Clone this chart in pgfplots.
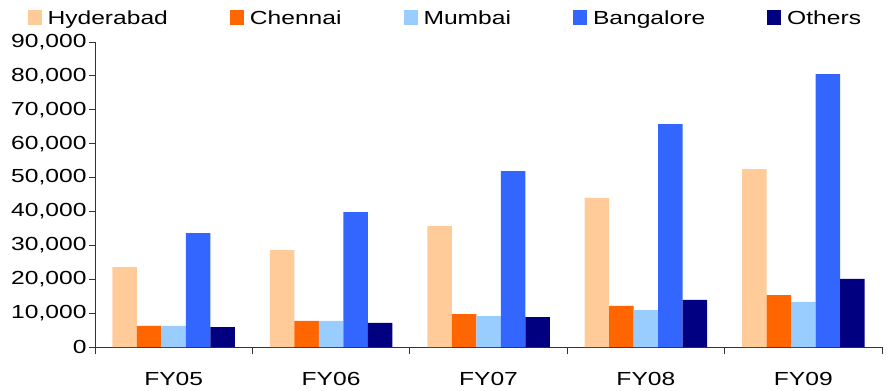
\documentclass[border=0pt]{standalone}
\usepackage{fontspec}
\setmainfont{Liberation Sans}[FakeStretch=1.3]
\usepackage{pgfplots}
\pgfplotsset{compat=1.18}
\definecolor{hyd}{HTML}{FFCC99}
\definecolor{che}{HTML}{FF6600}
\definecolor{mum}{HTML}{99CCFF}
\definecolor{ban}{HTML}{3366FF}
\definecolor{oth}{HTML}{000080}
\begin{document}
\begin{tikzpicture}
\begin{axis}[
  scale only axis, width=787bp, height=305bp,
  ybar=0pt, bar width=24.5bp,
  xmin=-0.5, xmax=4.5, ymin=0, ymax=90000,
  axis x line*=bottom, axis y line*=left,
  axis line style={black!80, line width=0.8pt},
  xtick={0,1,2,3,4}, xticklabels={FY05,FY06,FY07,FY08,FY09},
  major x tick style={draw=none},
  minor xtick={-0.5,0.5,1.5,2.5,3.5,4.5},
  minor x tick style={black!80, line width=0.8pt},
  minor tick length=7bp,
  tick align=outside,
  ytick={0,10000,20000,30000,40000,50000,60000,70000,80000,90000},
  major y tick style={black!80, line width=0.8pt},
  major tick length=6bp,
  scaled y ticks=false,
  /pgf/number format/.cd, fixed, 1000 sep={,}, assume math mode=true,
  /pgfplots/.cd,
  tick label style={font=\fontsize{19}{22}\selectfont},
  yticklabel style={xshift=1bp},
  xticklabel style={yshift=-16bp},
  legend style={font=\fontsize{19}{22}\selectfont, draw=none, fill=none,
    at={(axis description cs:-0.086,1.079)}, anchor=west,
    legend columns=5, inner xsep=0pt,
    /tikz/every even column/.append style={column sep=60bp}},
  legend image code/.code={\fill[#1] (0bp,-7.5bp) rectangle (14bp,7.5bp); \path (18bp,0);},
]
\addplot[fill=hyd, draw=none] coordinates {(0,23600) (1,28600) (2,35700) (3,44000) (4,52500)};
\addplot[fill=che, draw=none] coordinates {(0,6200) (1,7700) (2,9700) (3,12100) (4,15300)};
\addplot[fill=mum, draw=none] coordinates {(0,6200) (1,7700) (2,9100) (3,10900) (4,13300)};
\addplot[fill=ban, draw=none] coordinates {(0,33600) (1,39800) (2,51900) (3,65800) (4,80500)};
\addplot[fill=oth, draw=none] coordinates {(0,5900) (1,7100) (2,8850) (3,13900) (4,20100)};
\legend{Hyderabad,Chennai,Mumbai,Bangalore,Others}
\end{axis}
\pgfresetboundingbox
\path[use as bounding box] (-95bp,-44bp) rectangle (793bp,347bp);
\end{tikzpicture}
\end{document}
